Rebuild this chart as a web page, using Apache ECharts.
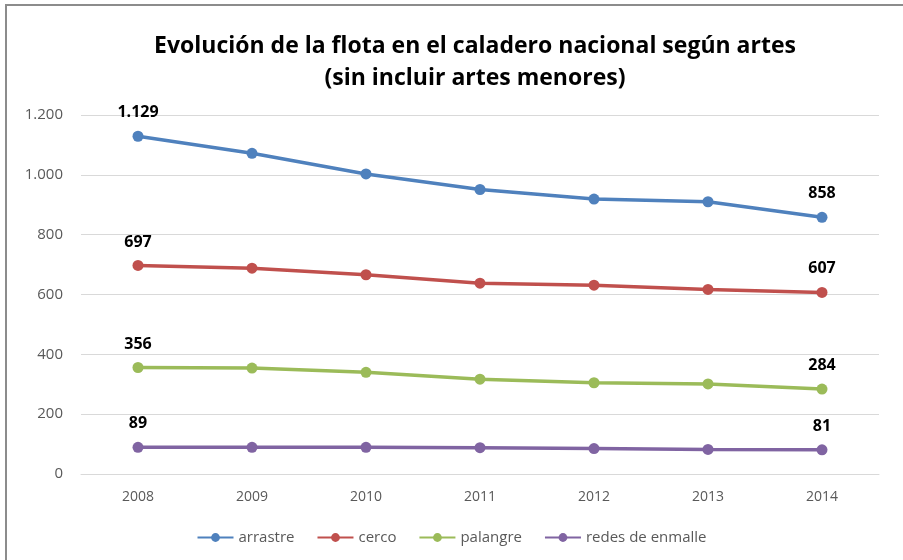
<!DOCTYPE html>
<html>
<head>
<meta charset="utf-8">
<script src="https://cdn.jsdelivr.net/npm/echarts@6/dist/echarts.min.js"></script>
<style>
  html, body { margin: 0; padding: 0; background: #fff; }
  #frame {
    position: absolute; left: 5px; top: 4px; width: 910px; height: 570px;
    border-left: 2px solid #8c8c8c; border-top: 2px solid #8c8c8c;
  }
  #chart { position: absolute; left: 0; top: 0; width: 903px; height: 560px; }
</style>
</head>
<body>
<div id="frame"></div>
<div id="chart"></div>
<script>
// datos
const years = ['2008', '2009', '2010', '2011', '2012', '2013', '2014'];
const arrastre = [1129, 1072, 1003, 951, 919, 910, 858];
const cerco = [697, 688, 666, 638, 631, 617, 607];
const palangre = [356, 354, 340, 317, 305, 301, 284];
const redes = [89, 89, 89, 88, 85, 82, 81];

const seriesNames = ['arrastre', 'cerco', 'palangre', 'redes de enmalle'];
const colors = ['#4F81BD', '#C0504D', '#9BBB59', '#8064A2'];
const font = "'Open Sans', sans-serif";

// separador de miles español: 1.129
function fmt(v) {
  return String(v).replace(/\B(?=(\d{3})+(?!\d))/g, '.');
}

function makeSeries(name, values, color) {
  return {
    name: name,
    type: 'line',
    data: values,
    symbol: 'circle',
    symbolSize: 11,
    lineStyle: { width: 3.5, color: color },
    itemStyle: { color: color },
    label: {
      show: true,
      position: 'top',
      distance: 10,
      color: '#000',
      fontWeight: 'bold',
      fontSize: 16,
      fontFamily: font,
      formatter: function (p) {
        return (p.dataIndex === 0 || p.dataIndex === values.length - 1) ? fmt(p.value) : '';
      }
    },
    emphasis: { disabled: true }
  };
}

let chart = echarts.init(document.getElementById('chart'));
chart.setOption({
  animation: false,
  title: {
    text: 'Evolución de la flota en el caladero nacional según artes\n(sin incluir artes menores)',
    left: 470,
    textAlign: 'center',
    top: 25,
    textStyle: {
      fontSize: 23,
      fontWeight: 'bold',
      color: '#000',
      fontFamily: font,
      lineHeight: 32
    }
  },
  legend: {
    bottom: 10,
    left: 'center',
    itemWidth: 36,
    itemHeight: 11,
    itemGap: 22,
    data: seriesNames,
    textStyle: { color: '#595959', fontSize: 15, fontFamily: font }
  },
  grid: { left: 81, right: 24, top: 115, bottom: 86 },
  xAxis: {
    type: 'category',
    data: years,
    boundaryGap: true,
    axisLine: { lineStyle: { color: '#d9d9d9' } },
    axisTick: { show: false },
    axisLabel: { color: '#595959', fontSize: 14, fontFamily: font, margin: 16 }
  },
  yAxis: {
    type: 'value',
    min: 0,
    max: 1200,
    interval: 200,
    axisLine: { show: false },
    axisTick: { show: false },
    splitLine: { lineStyle: { color: '#d9d9d9', width: 1 } },
    axisLabel: {
      color: '#595959', fontSize: 15, fontFamily: font, margin: 18,
      formatter: fmt
    }
  },
  series: [
    makeSeries(seriesNames[0], arrastre, colors[0]),
    makeSeries(seriesNames[1], cerco, colors[1]),
    makeSeries(seriesNames[2], palangre, colors[2]),
    makeSeries(seriesNames[3], redes, colors[3])
  ]
});
</script>
</body>
</html>
